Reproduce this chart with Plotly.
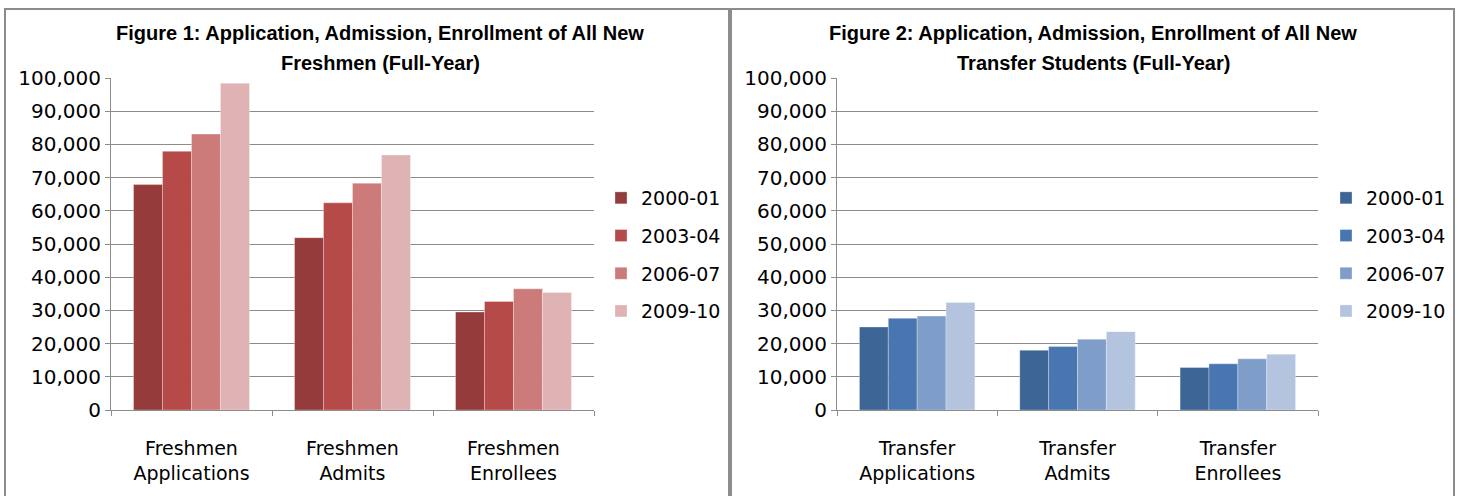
import plotly.graph_objects as go

years = ["2000-01", "2003-04", "2006-07", "2009-10"]
fresh_cats = ["Freshmen<br>Applications", "Freshmen<br>Admits", "Freshmen<br>Enrollees"]
trans_cats = ["Transfer<br>Applications", "Transfer<br>Admits", "Transfer<br>Enrollees"]

fresh_2000 = [67900, 51900, 29500]
fresh_2003 = [77900, 62400, 32700]
fresh_2006 = [83100, 68300, 36500]
fresh_2009 = [98400, 76800, 35400]

trans_2000 = [25000, 18000, 12800]
trans_2003 = [27600, 19100, 13900]
trans_2006 = [28300, 21300, 15400]
trans_2009 = [32400, 23600, 16800]

red_colors = ["#953B3B", "#B54A48", "#CC7B7A", "#DFB3B3"]
blue_colors = ["#3D6596", "#4776B0", "#7F9DC9", "#B4C3DE"]

FONT = "DejaVu Sans, sans-serif"
TITLE_FONT = "Liberation Sans, Arial, sans-serif"
W, H = 1458, 496

fig = go.Figure()
fresh_series = [fresh_2000, fresh_2003, fresh_2006, fresh_2009]
trans_series = [trans_2000, trans_2003, trans_2006, trans_2009]
for i, y in enumerate(years):
    fig.add_trace(go.Bar(x=fresh_cats, y=fresh_series[i], name=y, marker_color=red_colors[i],
                         marker_line=dict(width=0.6, color="rgba(255,255,255,0.5)"),
                         xaxis="x", yaxis="y", legend="legend", legendgroup="f" + y))
for i, y in enumerate(years):
    fig.add_trace(go.Bar(x=trans_cats, y=trans_series[i], name=y, marker_color=blue_colors[i],
                         marker_line=dict(width=0.6, color="rgba(255,255,255,0.5)"),
                         xaxis="x2", yaxis="y2", legend="legend2", legendgroup="t" + y))

ydom = [(H - 410) / H, (H - 78) / H]
axis_common = dict(showline=True, linecolor="#8C8C8C", linewidth=1, ticks="outside",
                   tickcolor="#8C8C8C", ticklen=5, automargin=False)
yaxis_common = dict(range=[0, 100000], dtick=10000, tickformat=",", showgrid=True,
                    gridcolor="#8C8C8C", gridwidth=1, zeroline=False,
                    tickfont=dict(size=20, color="black", family=FONT), **axis_common)
xaxis_common = dict(tickson="boundaries", showgrid=False, ticklabelstandoff=21,
                    tickfont=dict(size=19, color="black", family=FONT), **axis_common)

legend_common = dict(xanchor="left", yanchor="top", font=dict(size=19, family=FONT, color="black"),
                     tracegroupgap=10, traceorder="grouped", itemwidth=30,
                     bgcolor="rgba(0,0,0,0)")

fig.update_layout(
    width=W, height=H,
    margin=dict(l=0, r=0, t=0, b=0, pad=0, autoexpand=False),
    paper_bgcolor="white", plot_bgcolor="white",
    barmode="group", bargap=0.28, bargroupgap=0,
    font=dict(family=FONT, color="black", size=19),
    xaxis=dict(domain=[111 / W, 594 / W], anchor="y", **xaxis_common),
    yaxis=dict(domain=ydom, anchor="x", **yaxis_common),
    xaxis2=dict(domain=[837 / W, 1318 / W], anchor="y2", **xaxis_common),
    yaxis2=dict(domain=ydom, anchor="x2", **yaxis_common),
    legend=dict(x=601 / W, y=(H - 179) / H, **legend_common),
    legend2=dict(x=1326 / W, y=(H - 179) / H, **legend_common),
    showlegend=True,
)

titles = [
    ("Figure 1: Application, Admission, Enrollment of All New", "Freshmen (Full-Year)", 380),
    ("Figure 2: Application, Admission, Enrollment of All New", "Transfer Students (Full-Year)", 1093),
]
for l1, l2, cx in titles:
    for txt, cy in [(l1, 33), (l2, 63)]:
        fig.add_annotation(text="<b>" + txt + "</b>", x=cx / W, y=(H - cy) / H,
                           xref="paper", yref="paper", showarrow=False,
                           font=dict(size=20, family=TITLE_FONT, color="black"),
                           xanchor="center", yanchor="middle")

for x0, x1 in [(5, 729), (731, 1454)]:
    fig.add_shape(type="rect", xref="paper", yref="paper", x0=x0 / W, x1=x1 / W,
                  y0=-0.02, y1=(H - 9) / H, line=dict(color="#8C8C8C", width=2),
                  fillcolor="rgba(0,0,0,0)", layer="below")

fig.write_html("out.html", config={"displayModeBar": False},
               post_script="document.body.style.margin='0px';")
